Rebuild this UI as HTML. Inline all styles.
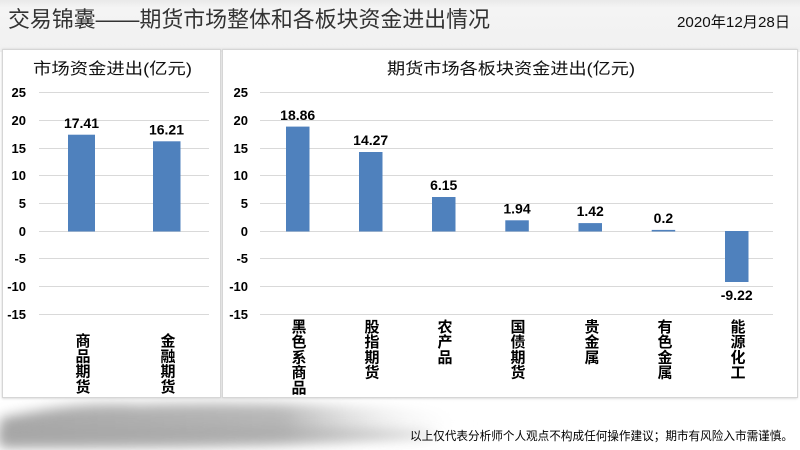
<!DOCTYPE html>
<html><head><meta charset="utf-8"><style>
html,body{margin:0;padding:0;background:#fff;}
svg{display:block;}
text{font-family:"Liberation Sans","Noto Sans CJK SC",sans-serif;}
</style></head><body>
<svg width="800" height="450" viewBox="0 0 800 450" xmlns="http://www.w3.org/2000/svg">
<defs>
<linearGradient id="top" x1="0" y1="0" x2="0" y2="1">
<stop offset="0" stop-color="#e9e9e9"/><stop offset="0.15" stop-color="#f4f4f4"/><stop offset="1" stop-color="#f1f1f1"/>
</linearGradient>
<linearGradient id="stroke" x1="0" y1="0" x2="1" y2="0">
<stop offset="0" stop-color="#a8a8a8"/><stop offset="0.6" stop-color="#b8b8b8"/><stop offset="1" stop-color="#ffffff" stop-opacity="0"/>
</linearGradient>
<filter id="blur" x="-10%" y="-50%" width="120%" height="200%"><feGaussianBlur stdDeviation="6"/></filter>
<filter id="sh" x="-5%" y="-5%" width="110%" height="110%"><feGaussianBlur stdDeviation="1.2"/></filter>
</defs>
<rect x="0" y="0" width="800" height="450" fill="#ffffff"/>
<rect x="0" y="0" width="800" height="52" fill="url(#top)"/>
<!-- bottom brush stroke -->
<path d="M0,418 C40,410 80,402 140,405 C220,402 320,404 420,410 C460,414 480,420 470,428 C430,436 300,444 150,445 C80,446 20,446 0,446 Z" fill="url(#stroke)" filter="url(#blur)"/>
<path d="M0,428 C60,424 180,426 300,428 C380,430 430,432 440,436 C380,442 250,446 120,446 L0,446 Z" fill="#a4a4a4" opacity="0.55" filter="url(#blur)"/>
<!-- panels -->
<rect x="2" y="49" width="219" height="349.5" fill="#d0d0d0" filter="url(#sh)"/>
<rect x="222" y="49" width="575.5" height="349.5" fill="#d0d0d0" filter="url(#sh)"/>
<rect x="2.5" y="49.5" width="218" height="348" fill="#ffffff" stroke="#d6d6d6" stroke-width="1"/>
<rect x="222.5" y="49.5" width="575" height="348" fill="#ffffff" stroke="#d6d6d6" stroke-width="1"/>
<!-- title -->
<text x="8" y="27" font-size="22" fill="#333" textLength="482" lengthAdjust="spacingAndGlyphs">交易锦囊——期货市场整体和各板块资金进出情况</text>
<text x="677" y="27" font-size="15" fill="#111" textLength="113" lengthAdjust="spacingAndGlyphs">2020年12月28日</text>
<!-- panel titles -->
<text x="33" y="74" font-size="16" fill="#111" textLength="159" lengthAdjust="spacingAndGlyphs">市场资金进出(亿元)</text>
<text x="387" y="74" font-size="16" fill="#111" textLength="248" lengthAdjust="spacingAndGlyphs">期货市场各板块资金进出(亿元)</text>
<!-- gridlines -->
<g stroke="#d9d9d9" stroke-width="1">
<line x1="39" x2="209" y1="92.5" y2="92.5"/>
<line x1="39" x2="209" y1="120.5" y2="120.5"/>
<line x1="39" x2="209" y1="148.5" y2="148.5"/>
<line x1="39" x2="209" y1="175.5" y2="175.5"/>
<line x1="39" x2="209" y1="203.5" y2="203.5"/>
<line x1="39" x2="209" y1="231.5" y2="231.5"/>
<line x1="39" x2="209" y1="258.5" y2="258.5"/>
<line x1="39" x2="209" y1="286.5" y2="286.5"/>
<line x1="39" x2="209" y1="314.5" y2="314.5"/>
<line x1="260" x2="773" y1="92.5" y2="92.5"/>
<line x1="260" x2="773" y1="120.5" y2="120.5"/>
<line x1="260" x2="773" y1="148.5" y2="148.5"/>
<line x1="260" x2="773" y1="175.5" y2="175.5"/>
<line x1="260" x2="773" y1="203.5" y2="203.5"/>
<line x1="260" x2="773" y1="231.5" y2="231.5"/>
<line x1="260" x2="773" y1="258.5" y2="258.5"/>
<line x1="260" x2="773" y1="286.5" y2="286.5"/>
<line x1="260" x2="773" y1="314.5" y2="314.5"/>
</g>
<!-- y tick labels -->
<g font-size="13" font-weight="bold" fill="#000" text-anchor="end">
<text x="26" y="97">25</text><text x="26" y="125">20</text><text x="26" y="153">15</text><text x="26" y="180">10</text><text x="26" y="208">5</text><text x="26" y="236">0</text><text x="26" y="263">-5</text><text x="26" y="291">-10</text><text x="26" y="319">-15</text>
<text x="248" y="97">25</text><text x="248" y="125">20</text><text x="248" y="153">15</text><text x="248" y="180">10</text><text x="248" y="208">5</text><text x="248" y="236">0</text><text x="248" y="263">-5</text><text x="248" y="291">-10</text><text x="248" y="319">-15</text>
</g>
<!-- bars -->
<g fill="#4f81bd">
<rect x="68" y="134.7" width="27" height="96.8"/>
<rect x="153" y="141.3" width="27.5" height="90.2"/>
<rect x="286" y="126.6" width="23.5" height="104.9"/>
<rect x="359" y="152" width="23.5" height="79.5"/>
<rect x="432" y="197" width="23.5" height="34.5"/>
<rect x="505.3" y="220.3" width="23.5" height="11.2"/>
<rect x="578.5" y="223.1" width="23.5" height="8.4"/>
<rect x="651.7" y="229.9" width="23.5" height="1.6"/>
<rect x="725" y="231" width="23.5" height="51"/>
</g>
<!-- data labels -->
<g font-size="14" font-weight="bold" fill="#000" text-anchor="middle">
<text x="81.5" y="128">17.41</text>
<text x="166.5" y="134.5">16.21</text>
<text x="297.7" y="120">18.86</text>
<text x="370.7" y="145">14.27</text>
<text x="443.7" y="190">6.15</text>
<text x="517" y="213.5">1.94</text>
<text x="590.2" y="216">1.42</text>
<text x="663.4" y="223">0.2</text>
<text x="736.7" y="300">-9.22</text>
</g>
<!-- category labels -->
<g font-size="15" font-weight="bold" fill="#000" text-anchor="middle">
<text x="83" y="346">商</text><text x="83" y="361.3">品</text><text x="83" y="376.6">期</text><text x="83" y="391.9">货</text>
<text x="168" y="346">金</text><text x="168" y="361.3">融</text><text x="168" y="376.6">期</text><text x="168" y="391.9">货</text>
<text x="299" y="332">黑</text><text x="299" y="347.2">色</text><text x="299" y="362.4">系</text><text x="299" y="377.6">商</text><text x="299" y="392.8">品</text>
<text x="372" y="332">股</text><text x="372" y="347.2">指</text><text x="372" y="362.4">期</text><text x="372" y="377.6">货</text>
<text x="445" y="332">农</text><text x="445" y="347.2">产</text><text x="445" y="362.4">品</text>
<text x="518" y="332">国</text><text x="518" y="347.2">债</text><text x="518" y="362.4">期</text><text x="518" y="377.6">货</text>
<text x="592" y="332">贵</text><text x="592" y="347.2">金</text><text x="592" y="362.4">属</text>
<text x="665" y="332">有</text><text x="665" y="347.2">色</text><text x="665" y="362.4">金</text><text x="665" y="377.6">属</text>
<text x="738" y="332">能</text><text x="738" y="347.2">源</text><text x="738" y="362.4">化</text><text x="738" y="377.6">工</text>
</g>
<!-- footer -->
<text x="410" y="440" font-size="12" fill="#000" textLength="383" lengthAdjust="spacingAndGlyphs">以上仅代表分析师个人观点不构成任何操作建议；期市有风险入市需谨慎。</text>
</svg>
</body></html>
